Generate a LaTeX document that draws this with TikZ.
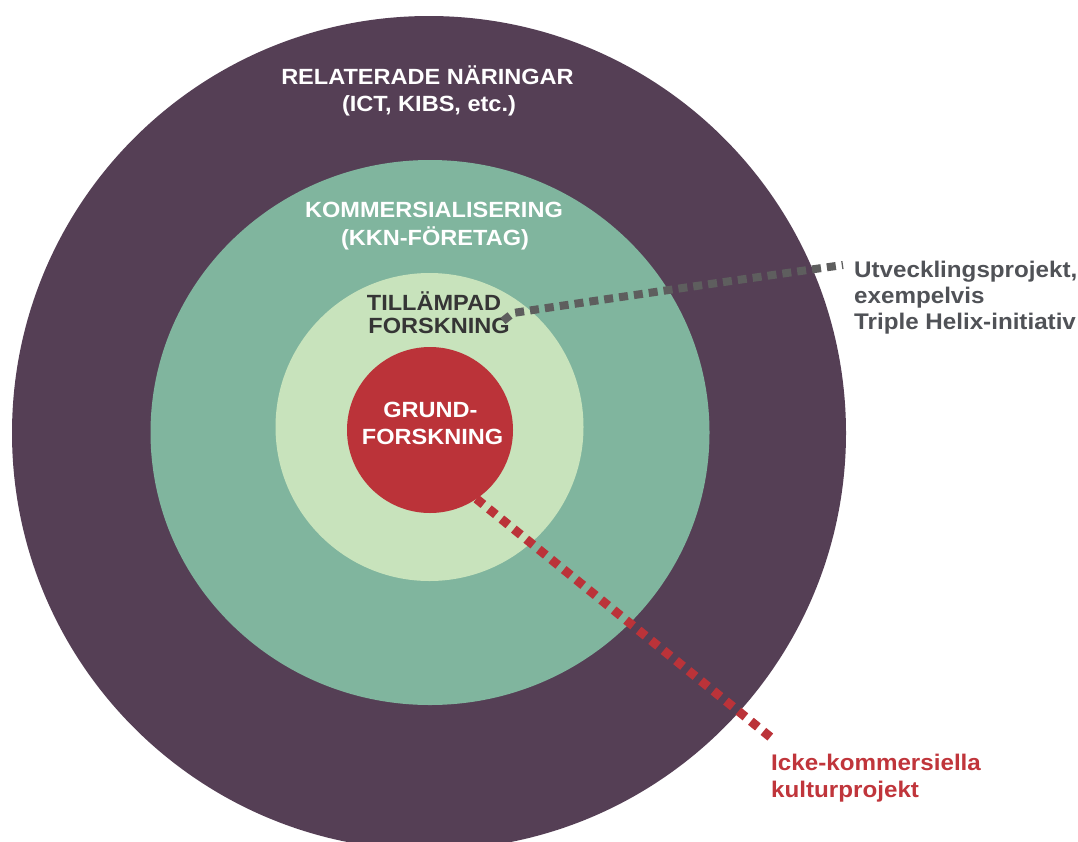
\documentclass[tikz,border=0pt]{standalone}
\usepackage{fontspec}
\usetikzlibrary{calc,shapes.geometric}
\setmainfont{Liberation Sans}
\newfontfamily\lab{Liberation Sans}[FakeStretch=1.07]
\definecolor{outerc}{HTML}{553F55}
\definecolor{midc}{HTML}{80B59E}
\definecolor{lightc}{HTML}{C8E3BC}
\definecolor{redc}{HTML}{BB3339}
\definecolor{greyline}{HTML}{5E5E5E}
\definecolor{greytext}{HTML}{505257}
\definecolor{redtext}{HTML}{C0353B}
\definecolor{darktext}{HTML}{353535}
\begin{document}
\begin{tikzpicture}[x=1pt,y=-1pt,
  ring/.style={circle,inner sep=0pt,minimum size=#1},
  lbl/.style={font=\lab\bfseries\fontsize{22}{27}\selectfont, inner sep=0pt, anchor=base},
  side/.style={font=\lab\bfseries\fontsize{22.6}{26}\selectfont, inner sep=0pt, anchor=base west},
  greydash/.style={draw=greyline, line width=8pt, dash pattern=on 9pt off 6pt},
  reddash/.style={draw=redc, line width=9pt, dash pattern=on 9pt off 7.06pt}]
\useasboundingbox (0,0) rectangle (1078,841);
\clip (0,0) rectangle (1078,841);
\fill[white] (0,0) rectangle (1078,841);
\node[ring=834pt, fill=outerc] (outer) at (429,433) {};
\node[ellipse, inner sep=0pt, minimum width=559pt, minimum height=545pt, fill=midc] (mid) at (430,432.5) {};
\node[ring=308pt, fill=lightc] (light) at (429.5,427) {};
\node[ring=166pt, fill=redc] (core) at (430,430) {};

\node[lbl, white] (r1) at (427.5,84.5) {RELATERADE NÄRINGAR};
\node[lbl, white] (r2) at (429,111.5) {(ICT, KIBS, etc.)};
\node[lbl, white] (k1) at (434,217.5) {KOMMERSIALISERING};
\node[lbl, white] (k2) at (435,245.5) {(KKN-FÖRETAG)};
\node[lbl, darktext] (t1) at (434,310.5) {TILLÄMPAD};
\node[lbl, darktext] (t2) at (439,333) {FORSKNING};
\node[lbl, white] (g1) at (430.5,417) {GRUND-};
\node[lbl, white] (g2) at (432.5,444.5) {FORSKNING};

\node[side, greytext] (u1) at (854,277) {Utvecklingsprojekt,};
\node[side, greytext] (u2) at (854,303) {exempelvis};
\node[side, greytext] (u3) at (854,329) {Triple Helix-initiativ};
\node[side, redtext] (i1) at (771,770) {Icke-kommersiella};
\node[side, redtext] (i2) at (771,797) {kulturprojekt};

\coordinate (gs) at (503,321);
\coordinate (ge) at (843,265);
\draw[greydash] (gs) -- (513,313) .. controls (620,297) and (730,281) .. (ge);
\coordinate (rs) at (476.4,498.8);
\coordinate (re) at (770.3,737);
\draw[reddash] (rs) -- (re);
\end{tikzpicture}
\end{document}
